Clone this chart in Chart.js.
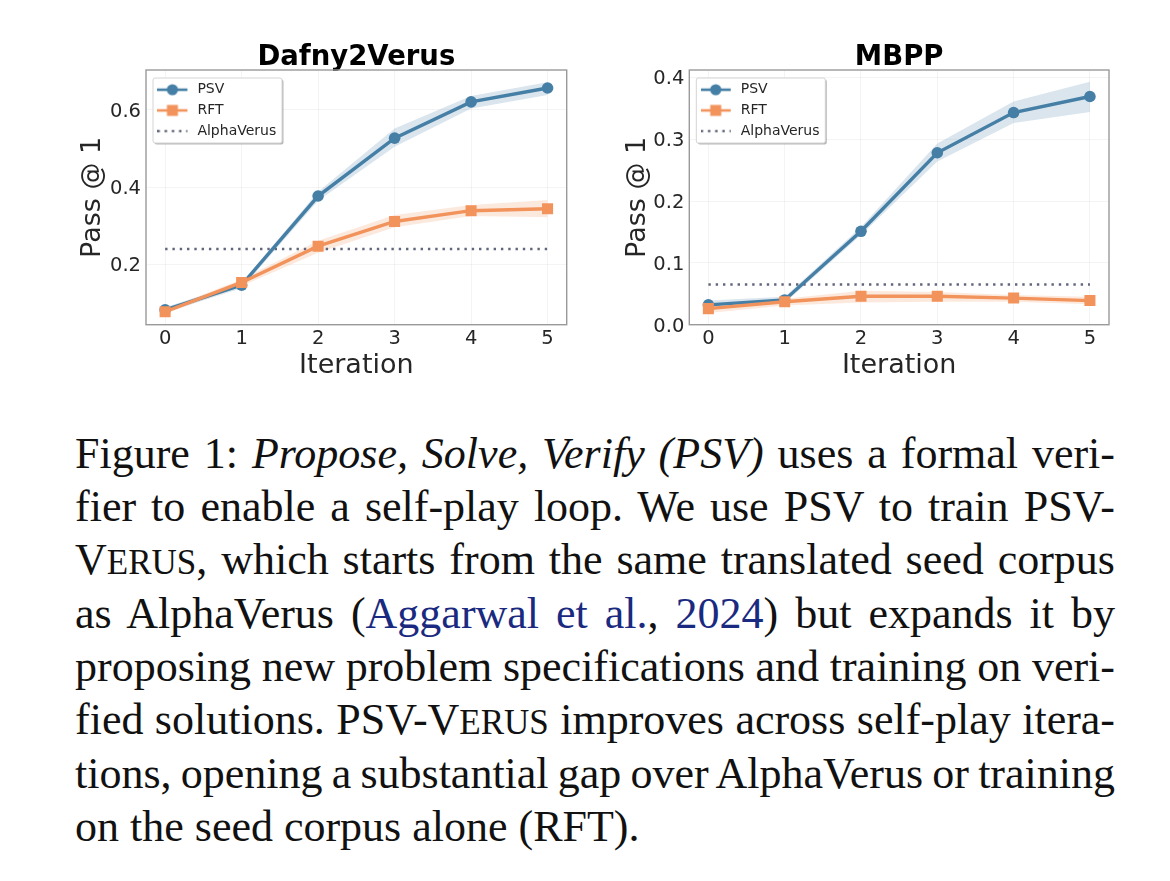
<!DOCTYPE html>
<html><head><meta charset="utf-8">
<script src="https://cdn.jsdelivr.net/npm/chart.js@4"></script>
<style>
html,body{margin:0;padding:0;background:#fff;width:1170px;height:881px;overflow:hidden}
canvas.c{position:absolute;top:30px;width:510px;height:360px;filter:blur(0.6px)}
#c1{left:70px}#c2{left:610px}
.l{position:absolute;left:75px;width:1040px;font:44px/1 "Liberation Serif",serif;color:#111;text-align:justify;text-align-last:justify;white-space:nowrap}
.l a{color:#1a2a80;text-decoration:none}
.sc{font-size:35px}
</style></head><body>
<canvas class="c" id="c1" width="510" height="360"></canvas>
<canvas class="c" id="c2" width="510" height="360"></canvas>
<div class="l" style="top:431.5px">Figure 1: <i>Propose, Solve, Verify (PSV)</i> uses a formal veri-</div>
<div class="l" style="top:485px">fier to enable a self-play loop. We use PSV to train PSV-</div>
<div class="l" style="top:538.3px">V<span class="sc">ERUS</span>, which starts from the same translated seed corpus</div>
<div class="l" style="top:591.5px">as AlphaVerus (<a>Aggarwal et al.</a>, <a>2024</a>) but expands it by</div>
<div class="l" style="top:644.9px;word-spacing:-0.6px">proposing new problem specifications and training on veri-</div>
<div class="l" style="top:698.2px">fied solutions. PSV-V<span class="sc">ERUS</span> improves across self-play itera-</div>
<div class="l" style="top:751.5px;word-spacing:-2px">tions, opening a substantial gap over AlphaVerus or training</div>
<div class="l" style="top:804.5px;text-align-last:left">on the seed corpus alone (RFT).</div>
<script>
const iterations=[0,1,2,3,4,5];
const seriesNames=['PSV','RFT','AlphaVerus'];
const d2vPSV=[0.082,0.146,0.377,0.527,0.621,0.657];
const d2vPSVUp=[0.089,0.152,0.388,0.552,0.636,0.672];
const d2vPSVLo=[0.075,0.138,0.365,0.505,0.604,0.639];
const d2vRFT=[0.077,0.153,0.247,0.311,0.339,0.344];
const d2vRFTUp=[0.083,0.161,0.261,0.328,0.354,0.367];
const d2vRFTLo=[0.072,0.144,0.230,0.296,0.325,0.322];
const d2vAlpha=[0.24,0.24,0.24,0.24,0.24,0.24];
const d2vTicks=[0.2,0.4,0.6];
const mbppPSV=[0.032,0.040,0.151,0.278,0.343,0.369];
const mbppPSVUp=[0.039,0.045,0.158,0.293,0.361,0.393];
const mbppPSVLo=[0.026,0.035,0.145,0.264,0.326,0.344];
const mbppRFT=[0.026,0.037,0.046,0.046,0.043,0.039];
const mbppRFTUp=[0.033,0.042,0.055,0.053,0.048,0.045];
const mbppRFTLo=[0.019,0.031,0.036,0.037,0.037,0.033];
const mbppAlpha=[0.065,0.065,0.065,0.065,0.065,0.065];
const mbppTicks=[0,0.1,0.2,0.3,0.4];

const BLUE='#457fa6',ORANGE='#f2935c',GRAY='#62667c';
const FONT='"DejaVu Sans"';
const pts=a=>a.map((y,i)=>({x:iterations[i],y}));

function handle(color,style){
  const c=document.createElement('canvas');c.width=33;c.height=14;
  const g=c.getContext('2d');g.strokeStyle=color;g.fillStyle=color;g.lineWidth=2.6;
  if(style==='dot'){g.setLineDash([2.4,4.8]);}
  g.beginPath();g.moveTo(0,7);g.lineTo(30,7);g.stroke();
  if(style==='circle'){g.beginPath();g.arc(15,7,5.6,0,7);g.fill();}
  if(style==='rect'){g.fillRect(9.5,1.5,11,11);}
  return c;
}
const frameLegend={id:'frameLegend',
  beforeLayout(chart){if(chart.legend)chart.legend.z=5;},
  afterLayout(chart){
    const l=chart.legend;if(!l)return;
    l.top=chart.chartArea.top+6;l.left=chart.chartArea.left+4.7;l.bottom=l.top+l.height;
    if(l._patched)return;l._patched=true;
    const o=l.draw;
    l.draw=function(){
      const x=chart.chartArea.left+7,y=chart.chartArea.top+8,w=129,h=65,g=chart.ctx;
      g.save();
      g.fillStyle='rgba(0,0,0,0.28)';g.beginPath();g.roundRect(x+1.5,y+1.5,w,h,2);g.fill();
      g.fillStyle='#fff';g.strokeStyle='#d4d4d4';g.lineWidth=1;g.beginPath();g.roundRect(x,y,w,h,2);g.fill();g.stroke();
      g.restore();
      o.call(this);
    };
  },
  beforeDatasetsDraw(chart){
    const a=chart.chartArea,g=chart.ctx;g.save();g.strokeStyle='#9a9a9a';g.lineWidth=1.4;
    g.strokeRect(a.left,a.top,a.right-a.left,a.bottom-a.top);g.restore();
  }
};
function nudgeLabels(s){
  if(s._nudged)return;s._nudged=true;
  const f=s._computeLabelItems;
  s._computeLabelItems=function(a){
    const items=f.call(this,a);
    items.forEach(it=>{it.options.translation=[it.options.translation[0],it.options.translation[1]+1.8];});
    return items;
  };
}
function band(up,lo,color){return[
  {label:'_u',data:pts(up),borderWidth:0,pointRadius:0,fill:'+1',backgroundColor:color,order:10},
  {label:'_l',data:pts(lo),borderWidth:0,pointRadius:0,fill:false,order:10}
];}
function make(id,title,P,Pu,Pl,R,Ru,Rl,A,ticks,ymin,ymax,padL,yw,padR){
  new Chart(document.getElementById(id),{
    type:'line',
    data:{datasets:[
      ...band(Pu,Pl,'rgba(69,127,166,0.2)'),
      ...band(Ru,Rl,'rgba(242,147,92,0.2)'),
      {label:seriesNames[2],data:pts(A),borderColor:GRAY,borderWidth:2.5,borderDash:[2.4,4.9],pointRadius:0,fill:false,order:3},
      {label:seriesNames[0],data:pts(P),borderColor:BLUE,backgroundColor:BLUE,borderWidth:3.4,pointRadius:5.8,pointBorderWidth:0,pointStyle:'circle',fill:false,order:2},
      {label:seriesNames[1],data:pts(R),borderColor:ORANGE,backgroundColor:ORANGE,borderWidth:3.4,pointRadius:7.8,pointBorderWidth:0,pointStyle:'rect',fill:false,order:1},
    ]},
    options:{
      responsive:false,animation:false,devicePixelRatio:1,
      layout:{padding:{top:0,right:padR,left:padL,bottom:8}},
      plugins:{
        title:{display:true,fullSize:false,text:title,color:'#000',font:{family:FONT,size:27.5,weight:'bold',lineHeight:0.873},padding:{top:16,bottom:0}},
        tooltip:{enabled:false},
        legend:{display:true,position:'chartArea',align:'start',
          labels:{usePointStyle:true,pointStyleWidth:33,boxHeight:14,padding:6.7,color:'#262626',font:{family:FONT,size:14},
            generateLabels(){return [
              {text:seriesNames[0],pointStyle:handle(BLUE,'circle'),fontColor:'#262626',lineWidth:0,strokeStyle:'transparent',fillStyle:'transparent',datasetIndex:5},
              {text:seriesNames[1],pointStyle:handle(ORANGE,'rect'),fontColor:'#262626',lineWidth:0,strokeStyle:'transparent',fillStyle:'transparent',datasetIndex:6},
              {text:seriesNames[2],pointStyle:handle(GRAY,'dot'),fontColor:'#262626',lineWidth:0,strokeStyle:'transparent',fillStyle:'transparent',datasetIndex:4},
            ];}}}
      },
      scales:{
        x:{type:'linear',min:-0.25,max:5.25,
          afterFit(s){s.height=57.3;},
          afterBuildTicks(s){s.ticks=iterations.map(v=>({value:v}));},
          grid:{color:'rgba(0,0,0,0.045)',drawTicks:false},border:{display:false},
          ticks:{color:'#262626',font:{family:FONT,size:19.5},padding:3,maxRotation:0,callback:v=>String(v)},
          title:{display:true,text:'Iteration',color:'#262626',font:{family:FONT,size:27},padding:{top:0,bottom:0}}},
        y:{min:ymin,max:ymax,
          afterFit(s){s.width=yw;},
          afterBuildTicks(s){s.ticks=ticks.map(v=>({value:v}));nudgeLabels(s);},
          grid:{color:'rgba(0,0,0,0.045)',drawTicks:false},border:{display:false},
          ticks:{color:'#262626',font:{family:FONT,size:19.5},padding:5,callback:v=>Number(v).toFixed(1)},
          title:{display:true,text:'Pass @ 1',color:'#262626',font:{family:FONT,size:27},padding:{top:0,bottom:0}}}
      }
    },
    plugins:[frameLegend]
  });
}
make('c1','Dafny2Verus',d2vPSV,d2vPSVUp,d2vPSVLo,d2vRFT,d2vRFTUp,d2vRFTLo,d2vAlpha,d2vTicks,0.0435,0.7036,7,69,13.3);
make('c2','MBPP',mbppPSV,mbppPSVUp,mbppPSVLo,mbppRFT,mbppRFTUp,mbppRFTLo,mbppAlpha,mbppTicks,0,0.4118,12,67.3,11);
</script>
</body></html>
